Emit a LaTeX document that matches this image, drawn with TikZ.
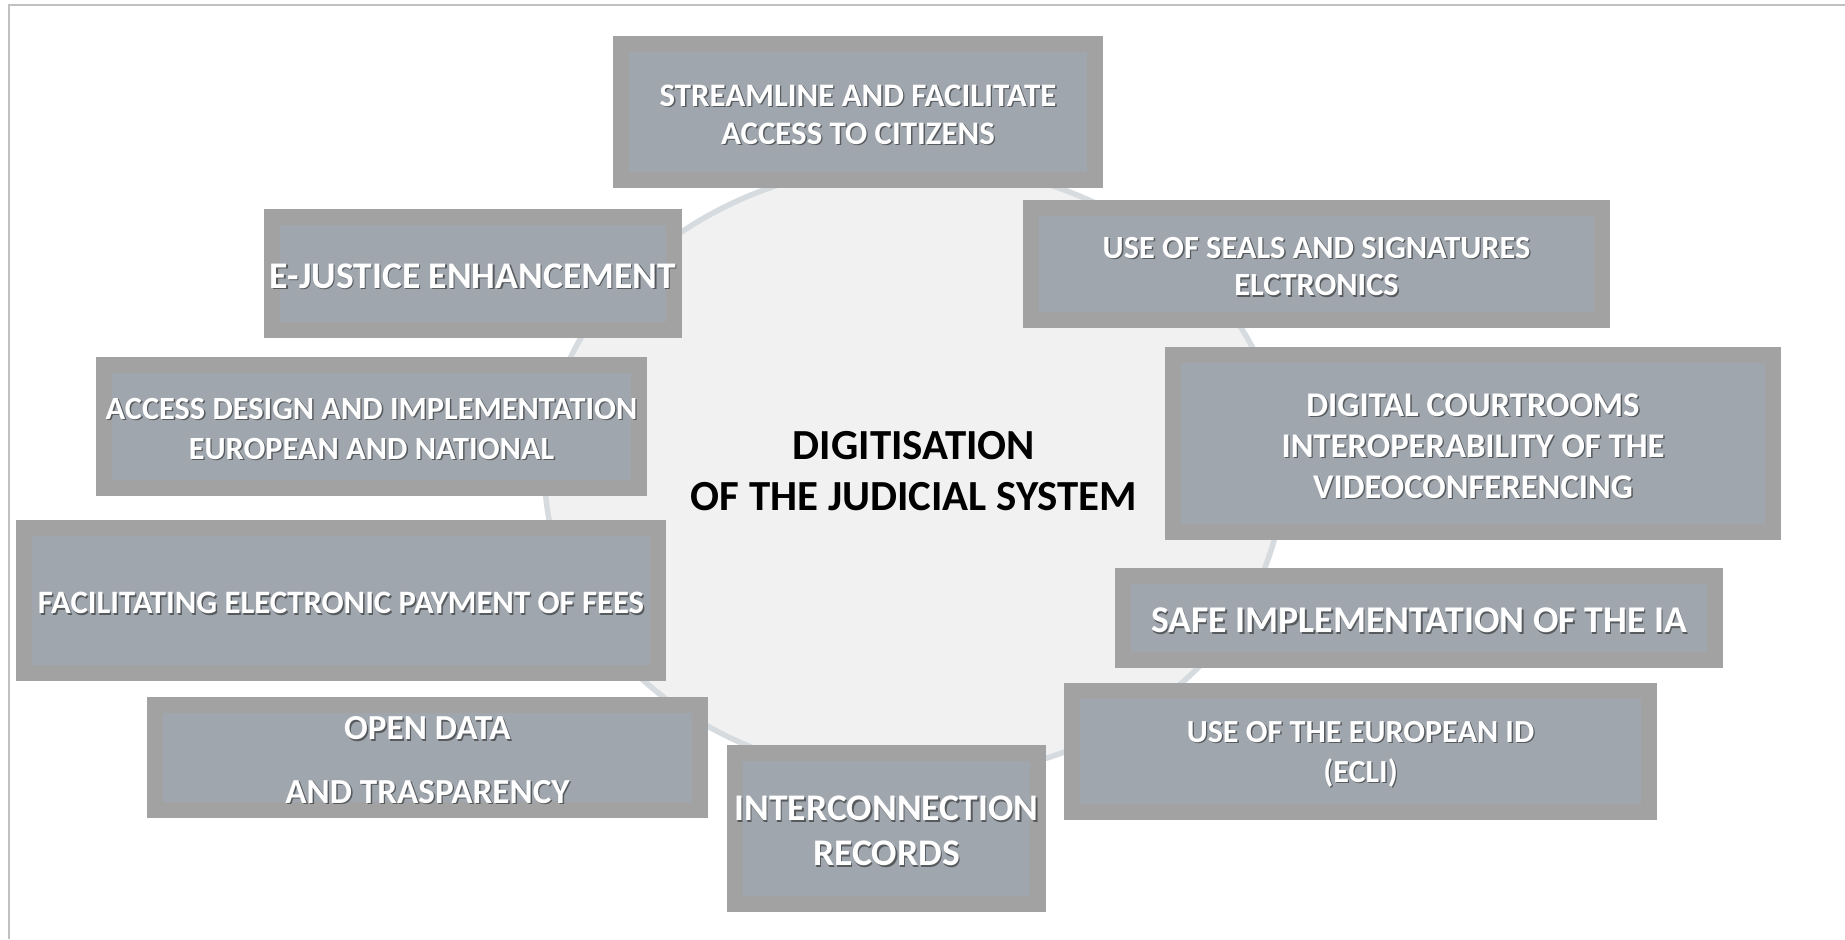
\documentclass[tikz,border=0pt]{standalone}
\usepackage{fontspec}
\setmainfont{Carlito}
\usetikzlibrary{shapes.geometric}

\definecolor{framegray}{RGB}{192,192,192}
\definecolor{hubfill}{RGB}{241,241,241}
\definecolor{hubrim}{RGB}{214,219,223}
\definecolor{goalrim}{RGB}{162,162,162}
\definecolor{goalfill}{RGB}{159,166,173}

\begin{document}
\begin{tikzpicture}[x=0.1mm, y=-0.1mm,
    frame/.style={draw=framegray, line width=0.2mm},
    hub/.style={ellipse, fill=hubfill, draw=hubrim, line width=0.55mm, inner sep=0pt,
      minimum width=73.9mm, minimum height=61.5mm, align=center,
      font=\bfseries\fontsize{12.2}{14.5}\selectfont},
    goal/.style={fill=goalfill, draw=goalrim, line width=1.6mm, inner sep=0pt, outer sep=0pt},
    goaltext/.style={text=white, align=center, inner sep=0pt},
    goalshade/.style={text=black, opacity=0.45, align=center, inner sep=0pt}]
  % A goal box: #1 = name, #2,#3 = left/top and #4,#5 = right/bottom of the outer rim,
  % #6 = font size, #7 = line skip, #8 = text (white, with a soft drop shadow).
  \newcommand{\goalbox}[8]{%
    \node[goal, minimum width={(#4-#2-16)*0.1mm}, minimum height={(#5-#3-16)*0.1mm}]
      (#1) at ({(#2+#4)/2},{(#3+#5)/2}) {};
    \node[goalshade, font=\bfseries\fontsize{#6}{#7}\selectfont] (#1-shade)
      at ([shift={(1.4,3.9)}]#1.center) {#8};
    \node[goaltext, font=\bfseries\fontsize{#6}{#7}\selectfont] (#1-text)
      at ([shift={(0,2.5)}]#1.center) {#8};}

  \useasboundingbox (0,0) rectangle (1845,939);
  \draw[frame] (9,939) -- (9,4.5) -- (1845,4.5);

  \node[hub] (hub) at (914,471) {DIGITISATION\\OF THE JUDICIAL SYSTEM};

  \goalbox{stream}{613}{36}{1103}{188}{9.35}{10.9}{STREAMLINE AND FACILITATE\\ACCESS TO CITIZENS}
  \goalbox{seals}{1023}{200}{1610}{328}{9.2}{10.8}{USE OF SEALS AND SIGNATURES\\ELCTRONICS}
  \goalbox{courts}{1165}{347}{1781}{540}{9.85}{11.6}{DIGITAL COURTROOMS\\INTEROPERABILITY OF THE\\VIDEOCONFERENCING}
  \goalbox{safeia}{1115}{568}{1723}{668}{10.75}{12.5}{SAFE IMPLEMENTATION OF THE IA}
  \goalbox{ecli}{1064}{683}{1657}{820}{9.15}{11.4}{USE OF THE EUROPEAN ID\\(ECLI)}
  \goalbox{records}{727}{745}{1046}{912}{10.7}{12.8}{INTERCONNECTION\\RECORDS}
  \goalbox{opendata}{147}{697}{708}{818}{10}{11.5}{OPEN DATA\\[6.5pt]AND TRASPARENCY}
  \goalbox{fees}{16}{520}{666}{681}{9.3}{10.9}{FACILITATING ELECTRONIC PAYMENT OF FEES}
  \goalbox{access}{96}{357}{647}{496}{9.2}{11.4}{ACCESS DESIGN AND IMPLEMENTATION\\EUROPEAN AND NATIONAL}
  \goalbox{ejustice}{264}{209}{682}{338}{10.7}{12.6}{E-JUSTICE ENHANCEMENT}
\end{tikzpicture}
\end{document}
